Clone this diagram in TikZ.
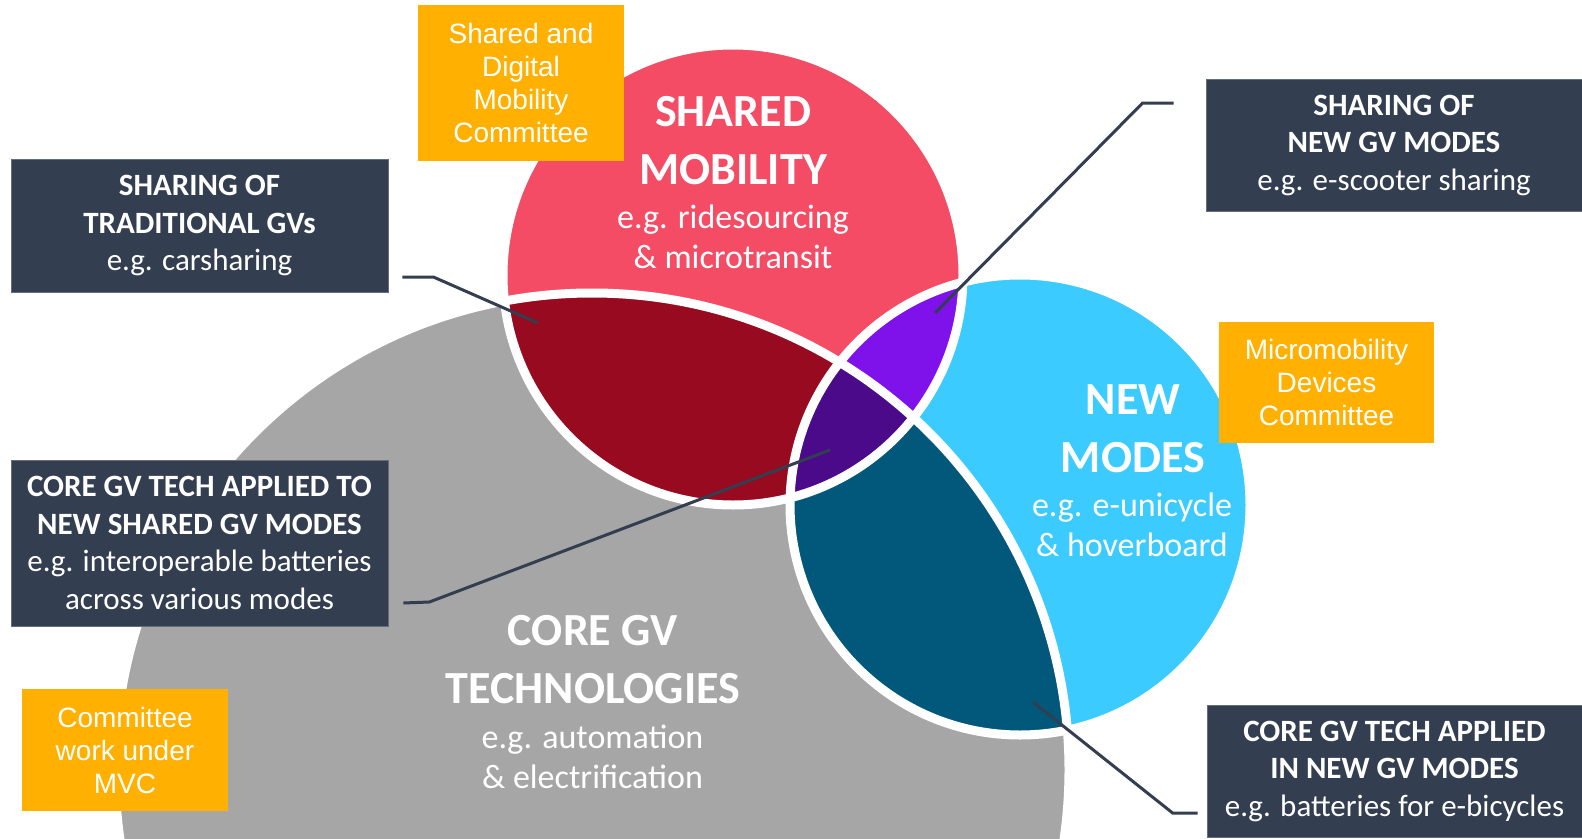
\documentclass[tikz,border=0pt]{standalone}
\usepackage{fontspec}
\setmainfont{Carlito}
\newfontfamily\arialfont{Liberation Sans}
\usepackage{tikz}
\usetikzlibrary{positioning, calc}

\definecolor{slate}{HTML}{333E50}
\definecolor{sharedpink}{HTML}{F34C64}
\definecolor{modesblue}{HTML}{3BCBFF}
\definecolor{coregray}{HTML}{A6A6A6}
\definecolor{wine}{HTML}{970A1F}
\definecolor{brightviolet}{HTML}{7F11EB}
\definecolor{deepviolet}{HTML}{4A0A8A}
\definecolor{petrol}{HTML}{02587A}
\definecolor{amber}{HTML}{FFB000}

\begin{document}
\begin{tikzpicture}[
      x=1pt, y=-1pt,
      infobox/.style={fill=slate, draw=slate!75!white, line width=0.8pt, text=white, align=center, inner sep=0pt, font=\fontsize{31}{37.5}\selectfont},
      cmtbox/.style={fill=amber, text=white, align=center, inner sep=0pt, font=\arialfont\fontsize{28}{33}\selectfont},
      title/.style={text=white, align=center, font=\bfseries\fontsize{46}{58}\selectfont},
      sample/.style={text=white, align=center, font=\fontsize{34}{40}\selectfont},
      leader/.style={draw=slate, line width=3pt},
      seam/.style={draw=white, line width=9pt}
    ]

      % Canvas, the big disc runs off the bottom edge
      \useasboundingbox (0,0) rectangle (1582,838);
      \clip (0,0) rectangle (1582,838);

      % Centres and radii of the three discs
      \coordinate (shared_c) at (733,275);
      \coordinate (modes_c) at (1020,505);
      \coordinate (core_c) at (592,770);
      \def\smallr{230pt}
      \def\bigr{477pt}

      % Base discs
      \fill[coregray] (core_c) circle[radius=\bigr];
      \fill[sharedpink] (shared_c) circle[radius=\smallr];
      \fill[modesblue] (modes_c) circle[radius=\smallr];

      % Core and new modes overlap
      \begin{scope}
        \clip (core_c) circle[radius=\bigr];
        \fill[petrol] (modes_c) circle[radius=\smallr];
      \end{scope}

      % Overlaps with shared mobility, triple overlap last
      \begin{scope}
        \clip (shared_c) circle[radius=\smallr];
        \fill[wine] (core_c) circle[radius=\bigr];
        \fill[brightviolet] (modes_c) circle[radius=\smallr];
        \clip (core_c) circle[radius=\bigr];
        \fill[deepviolet] (modes_c) circle[radius=\smallr];
      \end{scope}

      % White seams along every disc edge
      \foreach \c/\r in {core_c/\bigr, shared_c/\smallr, modes_c/\smallr} {
        \draw[seam] (\c) circle[radius=\r];
      }

      % Disc labels
      \node[title] (shared_t) at (733,140.5) {SHARED\\MOBILITY};
      \node[sample] (shared_s) at (733,236.5) {e.g. ridesourcing\\\& microtransit};
      \node[title] (modes_t) at (1133,429) {NEW\\MODES};
      \node[sample] (modes_s) at (1132,525) {e.g. e-unicycle\\\& hoverboard};
      \node[title] (core_t) at (593,660) {CORE GV\\TECHNOLOGIES};
      \node[sample] (core_s) at (592.5,757) {e.g. automation\\\& electrification};

      % Callout boxes
      \node[infobox, minimum width=377pt, minimum height=133pt] (trad) at (199.5,225.5)
        {\textbf{SHARING OF}\\\textbf{TRADITIONAL GVs}\\e.g. carsharing};
      \node[infobox, minimum width=377pt, minimum height=166pt] (shared_core) at (199.5,543)
        {\textbf{CORE GV TECH APPLIED TO}\\\textbf{NEW SHARED GV MODES}\\e.g. interoperable batteries\\across various modes};
      \node[infobox, minimum width=376pt, minimum height=132pt] (new_share) at (1394,145)
        {\textbf{SHARING OF}\\\textbf{NEW GV MODES}\\e.g. e-scooter sharing};
      \node[infobox, minimum width=375pt, minimum height=132pt] (new_core) at (1394.5,771)
        {\textbf{CORE GV TECH APPLIED}\\\textbf{IN NEW GV MODES}\\e.g. batteries for e-bicycles};

      % Committee tags
      \node[cmtbox, minimum width=206pt, minimum height=156pt] (cmt_shared) at (521,83)
        {Shared and\\Digital\\Mobility\\Committee};
      \node[cmtbox, minimum width=215pt, minimum height=121pt] (cmt_micro) at (1326.5,382.5)
        {Micromobility\\Devices\\Committee};
      \node[cmtbox, minimum width=206pt, minimum height=122pt] (cmt_mvc) at (125,750)
        {Committee\\work under\\MVC};

      % Leader lines from the boxes into the overlaps
      \coordinate (trad_tail) at ([xshift=14pt, yshift=-51.5pt]trad.east);
      \coordinate (trad_tip) at (538,323);
      \coordinate (shared_core_tail) at ([xshift=15pt, yshift=-60pt]shared_core.east);
      \coordinate (shared_core_tip) at (830,450);
      \coordinate (new_share_tail) at ([xshift=-32pt, yshift=42pt]new_share.west);
      \coordinate (new_share_tip) at (935,313);
      \coordinate (new_core_tail) at ([xshift=-9pt, yshift=-42pt]new_core.west);
      \coordinate (new_core_tip) at (1033,702);

      \draw[leader] (trad_tail) -- ++(31,0) -- (trad_tip);
      \draw[leader] (shared_core_tail) -- ++(26,-1) -- (shared_core_tip);
      \draw[leader] (new_share_tail) -- ++(-31,0) -- (new_share_tip);
      \draw[leader] (new_core_tail) -- ++(-25,0) -- (new_core_tip);

    \end{tikzpicture}
\end{document}
